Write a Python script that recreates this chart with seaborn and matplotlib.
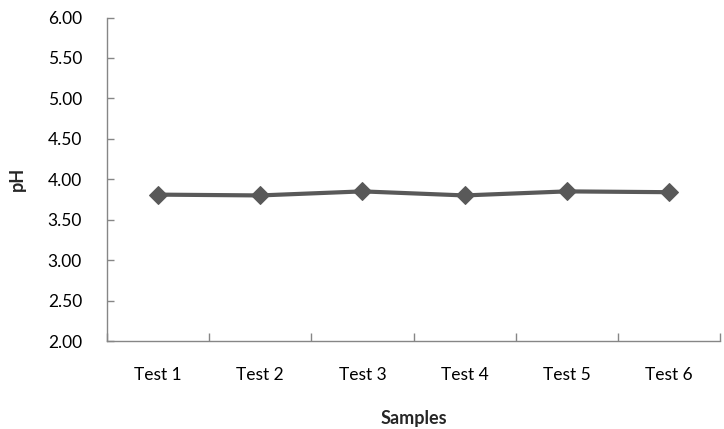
import matplotlib
matplotlib.use("Agg")
import matplotlib.pyplot as plt
import seaborn as sns
import pandas as pd
import numpy as np

samples = ["Test 1", "Test 2", "Test 3", "Test 4", "Test 5", "Test 6"]
ph_values = [3.81, 3.80, 3.85, 3.80, 3.85, 3.84]
y_ticks = [2.0, 2.5, 3.0, 3.5, 4.0, 4.5, 5.0, 5.5, 6.0]

sns.set_style("white")
plt.rcParams['font.family'] = ['Lato', 'DejaVu Sans']

df = pd.DataFrame({"Samples": samples, "pH": ph_values})

fig = plt.figure(figsize=(7.24, 4.29), dpi=100)
ax = fig.add_axes([0.1478, 0.2051, 0.8467, 0.7541])

sns.lineplot(data=df, x="Samples", y="pH", ax=ax, color="#595959",
             linewidth=3, marker="D", markersize=9, markeredgecolor="#595959",
             sort=False)

ax.set_ylim(2.0, 6.0)
ax.set_yticks(y_ticks)
ax.set_yticklabels([f"{v:.2f}" for v in y_ticks], fontsize=12.5, color="#000000")
ax.set_xlim(-0.5, len(samples) - 0.5)
ax.set_xticks(range(len(samples)))
ax.set_xticklabels(samples, fontsize=12.5, color="#000000")
ax.set_xticks(np.arange(-0.5, len(samples), 1.0), minor=True)

ax.tick_params(axis="y", which="major", direction="in", length=5, width=1,
               color="#868686", pad=18, left=True)
ax.tick_params(axis="x", which="major", length=0, pad=19, bottom=True)
ax.tick_params(axis="x", which="minor", direction="in", length=6, width=1,
               color="#868686", bottom=True)

for s in ["top", "right"]:
    ax.spines[s].set_visible(False)
for s in ["left", "bottom"]:
    ax.spines[s].set_color("#868686")
    ax.spines[s].set_linewidth(1)

ax.set_xlabel("Samples", fontsize=13, fontweight="bold", labelpad=19)
ax.set_ylabel("pH", fontsize=13, fontweight="bold", labelpad=16)
ax.grid(False)

fig.savefig("out.png", dpi=100)
